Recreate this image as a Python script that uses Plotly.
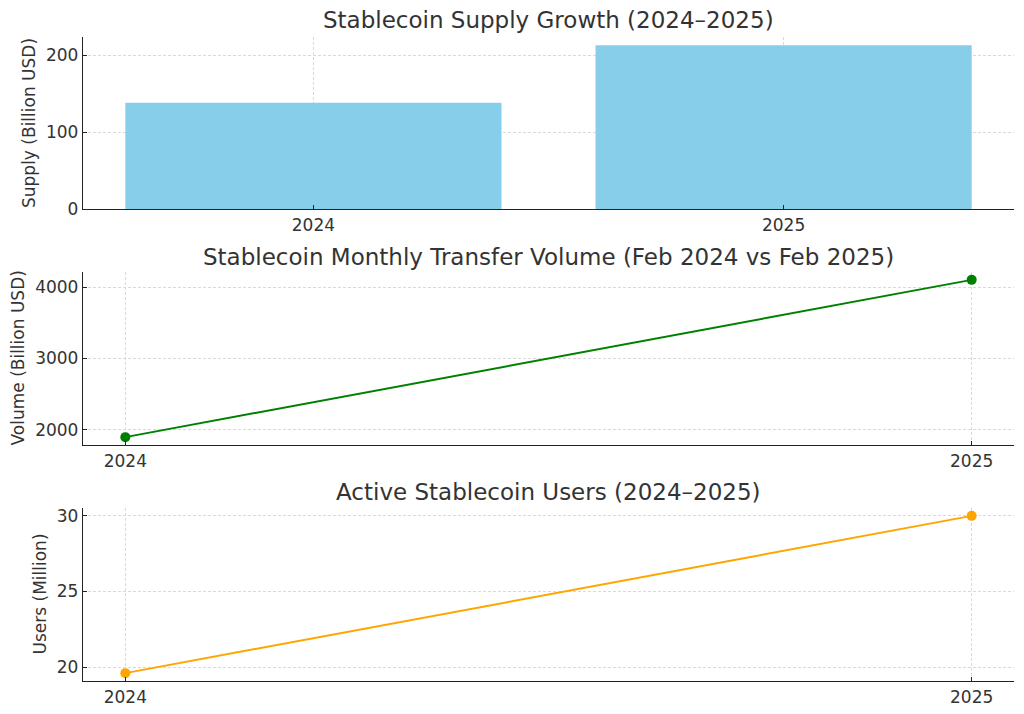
import plotly.graph_objects as go

# ---- data ----
years_cat = ["2024", "2025"]
supply_billion = [138, 213]

years = [2024, 2025]
volume_billion = [1900, 4100]
users_million = [19.6, 30]

titles = [
    "Stablecoin Supply Growth (2024–2025)",
    "Stablecoin Monthly Transfer Volume (Feb 2024 vs Feb 2025)",
    "Active Stablecoin Users (2024–2025)",
]
ylabels = ["Supply (Billion USD)", "Volume (Billion USD)", "Users (Million)"]

# ---- layout geometry (pixels, page coords; page body has 8px offset) ----
OFF = 8
W, H = 1016, 706
X0, X1 = 83 - OFF, 1014 - OFF
panels = [(37 - OFF, 209 - OFF), (272 - OFF, 445 - OFF), (508 - OFF, 681 - OFF)]
FONT = "DejaVu Sans"
TXT = "#333333"
GRID = "#d9d9d9"
SPINE = "#222222"

def ydom(top, bot):
    return [1 - bot / H, 1 - top / H]

fig = go.Figure()
fig.add_trace(go.Bar(x=years_cat, y=supply_billion, marker_color="#87CEEB",
                     marker_line_width=0, width=0.8, xaxis="x", yaxis="y"))
fig.add_trace(go.Scatter(x=years, y=volume_billion, mode="lines+markers",
                         line=dict(color="green", width=2), marker=dict(size=10, color="green"),
                         xaxis="x2", yaxis="y2"))
fig.add_trace(go.Scatter(x=years, y=users_million, mode="lines+markers",
                         line=dict(color="orange", width=2), marker=dict(size=10, color="orange"),
                         xaxis="x3", yaxis="y3"))

common_ax = dict(showline=True, linecolor=SPINE, linewidth=1.3, ticks="inside", ticklen=4,
                 tickcolor=SPINE, showgrid=True, gridcolor=GRID, griddash="3px,2px", gridwidth=0.8,
                 zeroline=False, tickfont=dict(family=FONT, size=17, color=TXT), automargin=False,
                 mirror=False)

def rng(vals):
    mn, mx = min(vals), max(vals)
    m = (mx - mn) * 0.05
    return [mn - m, mx + m]

layout = dict(
    width=W, height=H, margin=dict(l=0, r=0, t=0, b=0),
    paper_bgcolor="white", plot_bgcolor="white", showlegend=False,
    font=dict(family=FONT, color=TXT),
    xaxis=dict(common_ax, domain=[X0 / W, X1 / W], type="category", range=[-0.49, 1.49], anchor="y"),
    yaxis=dict(common_ax, domain=ydom(*panels[0]), range=[0, max(supply_billion) * 1.05],
               tickvals=[0, 100, 200], anchor="x"),
    xaxis2=dict(common_ax, domain=[X0 / W, X1 / W], range=[2023.95, 2025.05], tickvals=years,
                ticktext=[str(y) for y in years], anchor="y2"),
    yaxis2=dict(common_ax, domain=ydom(*panels[1]), range=rng(volume_billion),
                tickvals=[2000, 3000, 4000], anchor="x2"),
    xaxis3=dict(common_ax, domain=[X0 / W, X1 / W], range=[2023.95, 2025.05], tickvals=years,
                ticktext=[str(y) for y in years], anchor="y3"),
    yaxis3=dict(common_ax, domain=ydom(*panels[2]), range=rng(users_million),
                tickvals=[20, 25, 30], anchor="x3"),
)
fig.update_layout(**layout)

title_y = [20 - OFF, 257 - OFF, 492 - OFF]
label_x = [29 - OFF, 17 - OFF, 39 - OFF]
ann = []
for i in range(3):
    ann.append(dict(text=titles[i], xref="paper", yref="paper", x=(X0 + X1) / 2 / W,
                    y=1 - title_y[i] / H, xanchor="center", yanchor="middle", showarrow=False,
                    font=dict(family=FONT, size=23, color=TXT)))
    top, bot = panels[i]
    ann.append(dict(text=ylabels[i], xref="paper", yref="paper", x=label_x[i] / W,
                    y=1 - (top + bot) / 2 / H, xanchor="center", yanchor="middle", textangle=-90,
                    showarrow=False, font=dict(family=FONT, size=17, color=TXT)))
fig.update_layout(annotations=ann)

fig.write_html("out.html")
